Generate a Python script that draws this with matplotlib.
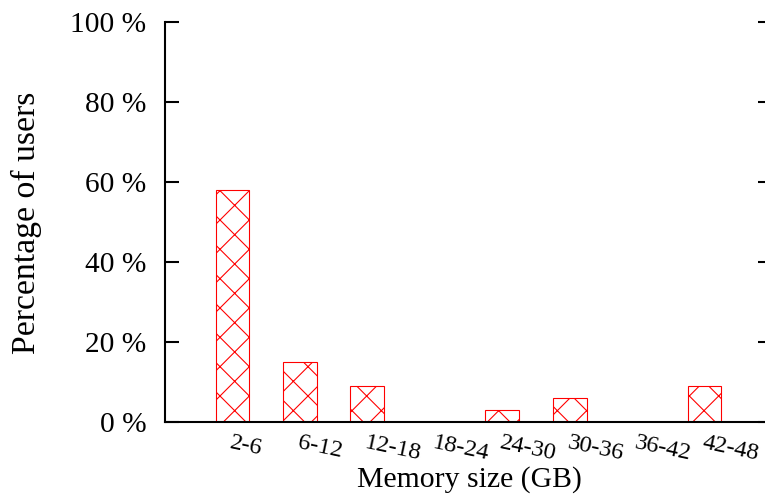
import matplotlib
matplotlib.use('Agg')
import matplotlib.pyplot as plt
import numpy as np

categories = ['2-6', '6-12', '12-18', '18-24', '24-30', '30-36', '36-42', '42-48']
percent_users = [58, 15, 9, 0, 3, 6, 0, 9]
y_ticks = [0, 20, 40, 60, 80, 100]
y_tick_labels = ['0 %', '20 %', '40 %', '60 %', '80 %', '100 %']

DPI = 176
W, H = 765, 501
plt.rcParams['font.family'] = ['Liberation Serif', 'DejaVu Serif']
plt.rcParams['hatch.linewidth'] = 0.45
plt.rcParams['hatch.color'] = 'red'

fig = plt.figure(figsize=(W / DPI, H / DPI), dpi=DPI)
ax = fig.add_axes([165 / W, (H - 421.7) / H, 607 / W, 399.7 / H])

x = np.arange(len(categories))
ax.bar(x, percent_users, width=0.5, color='white', edgecolor='red',
       hatch='xx', linewidth=0.45)

ax.set_xlim(-1, 8)
ax.set_ylim(0, 100)

for s in ['left', 'bottom', 'right']:
    ax.spines[s].set_linewidth(0.85)
ax.spines['top'].set_visible(False)

ax.set_yticks(y_ticks)
ax.set_yticklabels(y_tick_labels)
ax.tick_params(axis='y', direction='in', length=5.7, width=0.85,
               left=True, right=True, labelsize=12, pad=7.6)

ax.set_xticks(x)
ax.set_xticklabels(categories, rotation=-12, ha='left', va='top',
                   rotation_mode='anchor', fontsize=10)
ax.tick_params(axis='x', length=0, pad=4.2)

ax.set_xlabel('Memory size (GB)', fontsize=12.2)
ax.xaxis.set_label_coords(0.502, -0.11)
ax.set_ylabel('Percentage of users', fontsize=13.8)
ax.yaxis.set_label_coords(-0.203, 0.498)

fig.savefig('out.png', dpi=DPI)
